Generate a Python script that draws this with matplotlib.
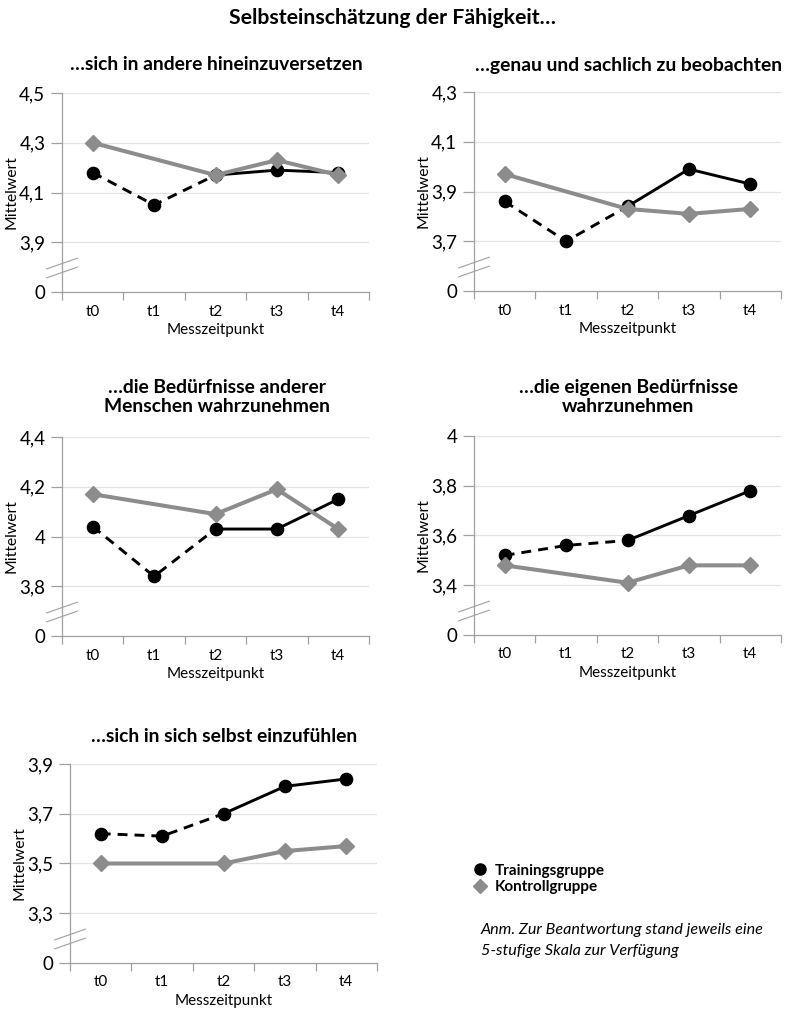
import matplotlib
matplotlib.use("Agg")
import matplotlib.pyplot as plt
from matplotlib.lines import Line2D
import numpy as np

plt.rcParams['font.family'] = ['Lato', 'DejaVu Sans']

# ---------------- data ----------------
timepoints = ["t0", "t1", "t2", "t3", "t4"]

titles = [
    "…sich in andere hineinzuversetzen",
    "…genau und sachlich zu beobachten",
    "…die Bedürfnisse anderer\nMenschen wahrzunehmen",
    "…die eigenen Bedürfnisse\nwahrzunehmen",
    "…sich in sich selbst einzufühlen",
]

training_1 = [4.18, 4.05, 4.17, 4.19, 4.18]
training_2 = [3.86, 3.70, 3.84, 3.99, 3.93]
training_3 = [4.04, 3.84, 4.03, 4.03, 4.15]
training_4 = [3.52, 3.56, 3.58, 3.68, 3.78]
training_5 = [3.62, 3.61, 3.70, 3.81, 3.84]

# control group has no measurement at t1
control_times = ["t0", "t2", "t3", "t4"]
control_1 = [4.30, 4.17, 4.23, 4.17]
control_2 = [3.97, 3.83, 3.81, 3.83]
control_3 = [4.17, 4.09, 4.19, 4.03]
control_4 = [3.48, 3.41, 3.48, 3.48]
control_5 = [3.50, 3.50, 3.55, 3.57]

# y ticks (above the axis break); the lowest axis value is shown as "0"
yticks_1 = [3.9, 4.1, 4.3, 4.5]
yticks_2 = [3.7, 3.9, 4.1, 4.3]
yticks_3 = [3.8, 4.0, 4.2, 4.4]
yticks_4 = [3.4, 3.6, 3.8, 4.0]
yticks_5 = [3.3, 3.5, 3.7, 3.9]

trainings = [training_1, training_2, training_3, training_4, training_5]
controls = [control_1, control_2, control_3, control_4, control_5]
yticks_all = [yticks_1, yticks_2, yticks_3, yticks_4, yticks_5]

# ---------------- layout ----------------
W, H = 785, 1011
fig = plt.figure(figsize=(W / 100, H / 100), dpi=100)

# axes boxes in pixels: left, right, top, bottom
boxes = [
    (62, 369, 93, 292),
    (474, 781, 92, 291),
    (62, 369, 437, 636),
    (474, 781, 436, 635),
    (70, 377, 764, 963),
]
title_y = [65, 65, 397, 397, 737]

BLACK = "#000000"
GRAY = "#8c8c8c"
AXIS = "#a0a0a0"
GRID = "#e3e3e3"

fig.text(0.5, 1 - 18 / H, "Selbsteinschätzung der Fähigkeit…", ha="center", va="center",
         fontsize=15.3, fontweight="bold")


def fmt(v):
    s = f"{v:g}"
    return s.replace(".", ",")


for i in range(5):
    l, r, t, b = boxes[i]
    ax = fig.add_axes([l / W, 1 - b / H, (r - l) / W, (b - t) / H])
    yt = yticks_all[i]
    step = yt[1] - yt[0]
    lo = yt[0] - step
    ax.set_ylim(lo, yt[-1])
    ax.set_xlim(-0.5, len(timepoints) - 0.5)

    xi = np.arange(len(timepoints))
    tr = trainings[i]
    # dashed part t0-t2, solid t2-t4
    ax.plot(xi[:3], tr[:3], color=BLACK, lw=2.1, ls=(0, (3.4, 2.4)), zorder=3,
            solid_capstyle="butt")
    ax.plot(xi[2:], tr[2:], color=BLACK, lw=2.1, ls="-", zorder=3)
    ax.plot(xi, tr, color=BLACK, ls="none", marker="o", markersize=8.8, zorder=4)

    cx = [timepoints.index(c) for c in control_times]
    ax.plot(cx, controls[i], color=GRAY, lw=2.9, marker="D", markersize=7.8,
            markeredgecolor=GRAY, zorder=5)

    # ticks
    ax.set_yticks([lo] + yt)
    ax.set_yticklabels(["0"] + [fmt(v) for v in yt], fontsize=13.5)
    ax.tick_params(axis="y", length=8, width=0.9, color=AXIS, pad=4)
    ax.set_xticks(xi)
    ax.set_xticklabels(timepoints, fontsize=11)
    ax.set_xticks(np.arange(-0.5, len(timepoints)), minor=True)
    ax.tick_params(axis="x", which="major", length=0, pad=9)
    ax.tick_params(axis="x", which="minor", length=6, width=0.9, color=AXIS)

    for v in yt:
        ax.axhline(v, color=GRID, lw=0.9, zorder=1)

    for s in ["top", "right"]:
        ax.spines[s].set_visible(False)
    for s in ["left", "bottom"]:
        ax.spines[s].set_color(AXIS)
        ax.spines[s].set_linewidth(0.9)
        ax.spines[s].set_zorder(2)

    ax.set_xlabel("Messzeitpunkt", fontsize=11, labelpad=3)
    ax.set_ylabel("Mittelwert", fontsize=11.3)
    ax.yaxis.set_label_coords(-0.143, 0.5)

    # axis break marks
    for yc in (0.143, 0.098):
        ax.add_line(Line2D([-0.05, 0.05], [yc - 0.027, yc + 0.027], transform=ax.transAxes,
                           color=AXIS, lw=0.8, clip_on=False))

    fig.text(((l + r) / 2 + 1) / W, 1 - title_y[i] / H, titles[i], ha="center", va="center",
             fontsize=13.9, fontweight="bold", linespacing=1.15)

# legend
handles = [
    Line2D([], [], color=BLACK, marker="o", ls="none", markersize=8),
    Line2D([], [], color=GRAY, marker="D", ls="none", markersize=7),
]
fig.legend(handles, ["Trainingsgruppe", "Kontrollgruppe"], loc="upper left",
           bbox_to_anchor=(466 / W, 1 - 856 / H), frameon=False,
           prop={"weight": "bold", "size": 11}, handlelength=0.8, handletextpad=0.6,
           labelspacing=0.15, borderpad=0)

fig.text(481 / W, 1 - 930 / H, "Anm. Zur Beantwortung stand jeweils eine", fontsize=11.6,
         style="italic", va="center")
fig.text(481 / W, 1 - 951 / H, "5-stufige Skala zur Verfügung", fontsize=11.6,
         style="italic", va="center")

fig.savefig("out.png", dpi=100)
